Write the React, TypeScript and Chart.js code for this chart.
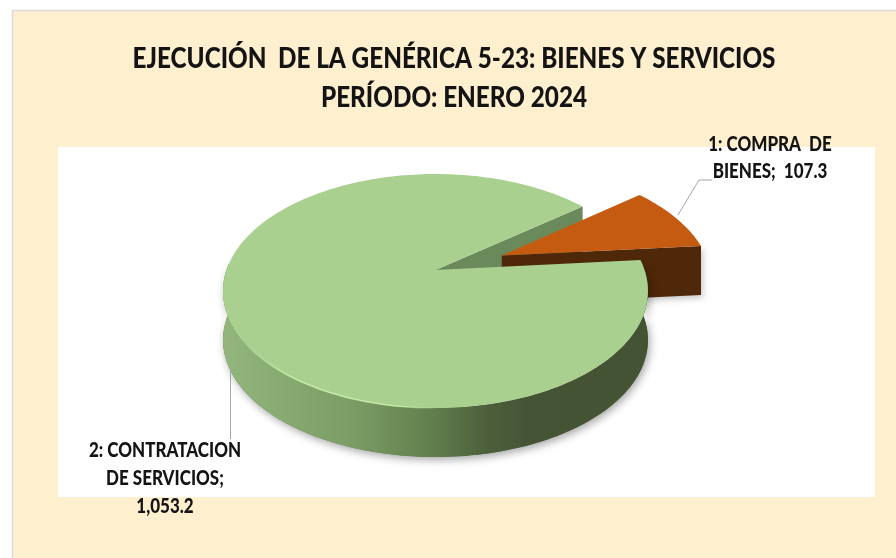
import React, { useEffect, useRef } from "react";
import { Chart, registerables } from "chart.js";

Chart.register(...registerables);

const categories = ["1: COMPRA DE BIENES", "2: CONTRATACION DE SERVICIOS"];
const values = [107.3, 1053.2];
const sliceColors = ["#C55A11", "#A9D08E"];
const titleLines = ["EJECUCIÓN  DE LA GENÉRICA 5-23: BIENES Y SERVICIOS", "PERÍODO: ENERO 2024"];
const fmt = (v: number) => v.toLocaleString("en-US", { minimumFractionDigits: 1, maximumFractionDigits: 1 });
const labelLines = [
  ["1: COMPRA  DE", `BIENES;  ${fmt(values[0])}`],
  ["2: CONTRATACION", "DE SERVICIOS;", fmt(values[1])],
];

// projection of the unit disc on to the page (tilted pie, seen in perspective)
const CX = 435.5, CY = 270, A = 209, B = 113.2, K = 0.1795, DEPTH = 49;
const project = (u: number, v: number): [number, number] => {
  const w = 1 + K * v;
  return [CX + (A * u) / w, CY - (B * v) / w];
};

const pie3d = {
  id: "pie3d",
  afterLayout(chart: any) {
    const block = chart.titleBlock;
    if (block && !block.__wrapped) {
      const orig = block.draw.bind(block);
      block.__wrapped = true;
      block.draw = (...args: any[]) => {
        const { ctx } = chart;
        ctx.save();
        ctx.translate(454, 0);
        ctx.scale(0.837, 1);
        ctx.translate(-454, 0);
        orig(...args);
        ctx.restore();
      };
    }
  },
  beforeDraw(chart: any) {
    const { ctx, width, height } = chart;
    ctx.save();
    ctx.fillStyle = "#ffffff";
    ctx.fillRect(0, 0, width, height);
    ctx.fillStyle = "#FEF0CF";
    ctx.fillRect(12, 10, width, height);
    ctx.strokeStyle = "#d9d9d9";
    ctx.lineWidth = 1.5;
    ctx.beginPath();
    ctx.moveTo(12.5, height);
    ctx.lineTo(12.5, 10.5);
    ctx.lineTo(width, 10.5);
    ctx.stroke();
    ctx.fillStyle = "#ffffff";
    ctx.fillRect(58, 147, 817, 350);
    ctx.restore();
  },
  beforeDatasetsDraw(chart: any) {
    const { ctx } = chart;
    const arcs = chart.getDatasetMeta(0).data;

    const geom = (arc: any) => {
      const mid = (arc.startAngle + arc.endAngle) / 2;
      const off = (arc.options.offset || 0) / 4 / arc.outerRadius;
      const ox = Math.cos(mid) * off, oy = Math.sin(mid) * off;
      const pt = (a: number, r = 1) => project(ox + r * Math.cos(a), -(oy + r * Math.sin(a)));
      const outline = (to = arc.endAngle) => {
        const pts: [number, number][] = [];
        const n = Math.max(12, Math.ceil((to - arc.startAngle) * 40));
        for (let i = 0; i <= n; i++) pts.push(pt(arc.startAngle + ((to - arc.startAngle) * i) / n));
        return pts;
      };
      return { pt, outline, apex: pt(0, 0) };
    };
    const poly = (pts: [number, number][]) => {
      ctx.beginPath();
      pts.forEach((p, i) => (i ? ctx.lineTo(p[0], p[1]) : ctx.moveTo(p[0], p[1])));
      ctx.closePath();
    };
    const down = (p: [number, number]): [number, number] => [p[0], p[1] + DEPTH];

    const orange = geom(arcs[0]);
    const green = geom(arcs[1]);
    const gOut = green.outline();
    const gFront = green.outline(Math.PI * 1.02); // only the visible, near part of the rim
    const oOut = orange.outline();
    const gBack = gOut[gOut.length - 1];
    const oEnd = oOut[oOut.length - 1];

    ctx.save();

    // far wall of the gap left by the green slice
    ctx.fillStyle = "#6B8A5C";
    poly([green.apex, gBack, down(gBack), down(green.apex)]);
    ctx.fill();

    // exploded orange slice
    ctx.save();
    ctx.shadowColor = "rgba(0,0,0,0.22)";
    ctx.shadowBlur = 6;
    ctx.shadowOffsetX = 2;
    ctx.shadowOffsetY = 3;
    ctx.fillStyle = "#4F2709";
    poly([orange.apex, oEnd, down(oEnd), down(orange.apex)]);
    ctx.fill();
    ctx.restore();
    ctx.fillStyle = arcs[0].options.backgroundColor;
    poly([orange.apex, ...oOut]);
    ctx.fill();

    // green slice: rim then top face
    ctx.save();
    ctx.shadowColor = "rgba(0,0,0,0.35)";
    ctx.shadowBlur = 8;
    ctx.shadowOffsetX = 2;
    ctx.shadowOffsetY = 3;
    ctx.fillStyle = "#5a7448";
    poly([...gFront, ...gFront.slice().reverse().map(down)]);
    ctx.fill();
    ctx.restore();

    const grad = ctx.createLinearGradient(222, 0, 645, 0);
    grad.addColorStop(0, "#92B67C");
    grad.addColorStop(0.3, "#7C9E66");
    grad.addColorStop(0.5, "#607E4C");
    grad.addColorStop(0.63, "#4C5F3C");
    grad.addColorStop(0.72, "#465436");
    grad.addColorStop(1, "#445334");
    ctx.fillStyle = grad;
    poly([...gFront, ...gFront.slice().reverse().map(down)]);
    ctx.fill();

    ctx.fillStyle = arcs[1].options.backgroundColor;
    poly([green.apex, ...gOut]);
    ctx.fill();

    // bevel highlight along the front edge
    const hi = ctx.createLinearGradient(225, 0, 440, 0);
    hi.addColorStop(0, "rgba(200,238,170,0)");
    hi.addColorStop(0.3, "rgba(200,238,170,0.9)");
    hi.addColorStop(0.8, "rgba(200,238,170,0.9)");
    hi.addColorStop(1, "rgba(200,238,170,0)");
    ctx.strokeStyle = hi;
    ctx.lineWidth = 1.6;
    ctx.beginPath();
    gOut.forEach((p) => {
      if (p[1] > 300 && p[0] < 445) ctx.lineTo(p[0], p[1]);
    });
    ctx.stroke();

    ctx.restore();
    return false;
  },
  afterDraw(chart: any) {
    const { ctx } = chart;
    ctx.save();
    ctx.strokeStyle = "#a6a6a6";
    ctx.lineWidth = 1;
    ctx.beginPath();
    ctx.moveTo(678, 215);
    ctx.lineTo(699, 180);
    ctx.lineTo(712, 180);
    ctx.moveTo(230.5, 368);
    ctx.lineTo(230.5, 439);
    ctx.stroke();

    ctx.fillStyle = "#141414";
    ctx.font = "900 20px Lato";
    ctx.textAlign = "center";
    ctx.textBaseline = "middle";
    const place = (lines: string[], x: number, y0: number, step: number) =>
      lines.forEach((t, i) => {
        ctx.save();
        ctx.translate(x, y0 + i * step);
        ctx.scale(0.85, 1);
        ctx.fillText(t, 0, 0);
        ctx.restore();
      });
    place(labelLines[0], 770, 145, 27);
    place(labelLines[1], 165, 451, 28);
    ctx.restore();
  },
};

export default function App() {
  const ref = useRef<HTMLCanvasElement>(null);
  useEffect(() => {
    const chart = new Chart(ref.current!, {
      type: "pie",
      data: {
        labels: categories,
        datasets: [
          {
            data: values,
            backgroundColor: sliceColors,
            borderWidth: 0,
            offset: [140, 0],
          },
        ],
      },
      options: {
        animation: false,
        responsive: false,
        rotation: 51.5,
        radius: 100,
        layout: { padding: { left: 12, right: 0, top: 0, bottom: 0 } },
        events: [],
        plugins: {
          legend: { display: false },
          tooltip: { enabled: false },
          title: {
            display: true,
            text: titleLines,
            color: "#141414",
            font: { family: "Lato", weight: "900", size: 29, lineHeight: 39 / 29 },
            padding: { top: 39.5, bottom: 0 },
          },
        },
      },
      plugins: [pie3d],
    });
    return () => chart.destroy();
  }, []);
  return (
    <div style={{ position: "absolute", left: 0, top: 0, width: 896, height: 558 }}>
      <canvas ref={ref} width={896} height={558} style={{ display: "block" }} />
    </div>
  );
}
